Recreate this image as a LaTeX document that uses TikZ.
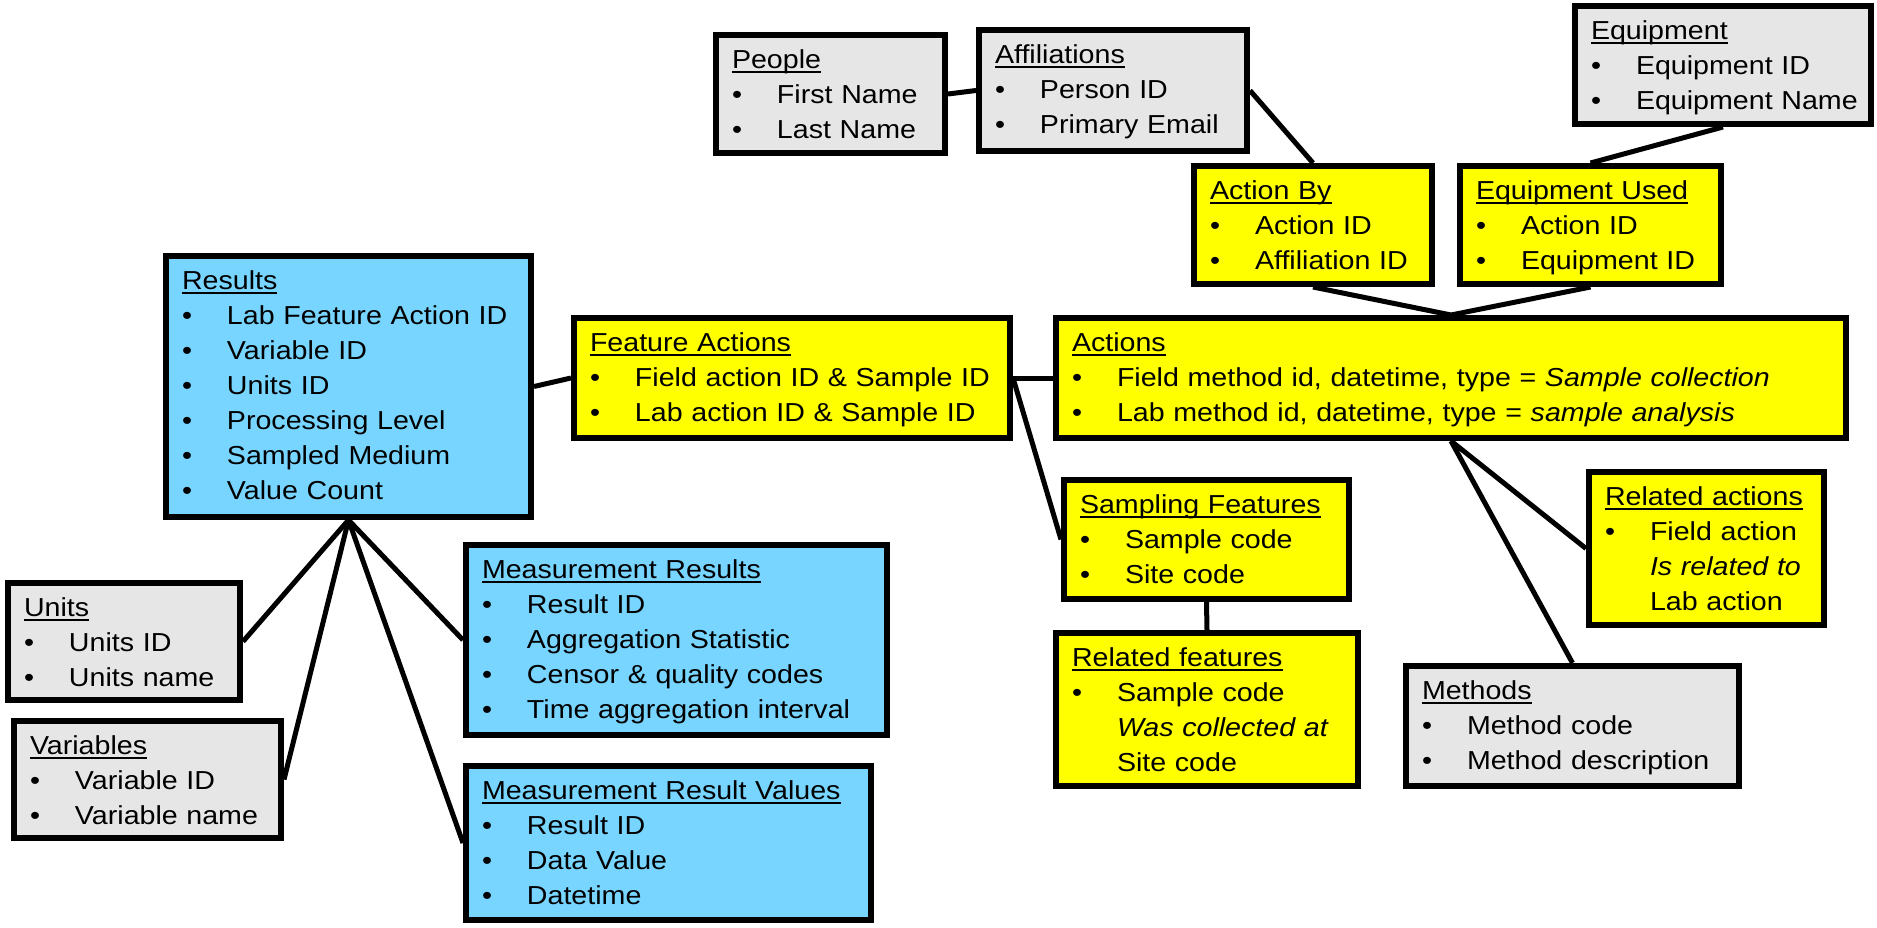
\documentclass[tikz,border=0pt]{standalone}
\usepackage{fontspec}
\setmainfont[FakeStretch=1.1]{Liberation Sans}
\usepackage{tikz}
\definecolor{odmyellow}{RGB}{255,255,0}
\definecolor{odmblue}{RGB}{119,213,255}
\definecolor{odmgrey}{RGB}{230,230,230}

\newcommand{\tbltitle}[1]{\mbox{\setbox0=\hbox{#1}\rlap{\rule[-5pt]{\wd0}{2pt}}\box0}}
\newcommand{\tblitem}[1]{\mbox{\makebox[45pt][l]{\textbullet}#1}}
\newcommand{\tblcont}[1]{\mbox{\hspace*{45pt}#1}}

\begin{document}
\begin{tikzpicture}[x=1pt, y=-1pt,
    tbl/.style 2 args={draw, line width=6pt, anchor=north west, align=left,
        inner xsep=16pt, inner ysep=0pt, text width=#1, text height=33pt, text depth=#2,
        font=\fontsize{26pt}{35pt}\selectfont},
    link/.style={line width=5pt}]
    \useasboundingbox (0,0) rectangle (1877,927);

    % People and equipment
    \node[tbl={197pt}{85pt}, fill=odmgrey] (people) at (713,32)
        {\tbltitle{People}\\ \tblitem{First Name}\\ \tblitem{Last Name}};
    \node[tbl={236pt}{88pt}, fill=odmgrey] (affil) at (976,27)
        {\tbltitle{Affiliations}\\ \tblitem{Person ID}\\ \tblitem{Primary Email}};
    \node[tbl={264pt}{85pt}, fill=odmgrey] (equip) at (1572,3)
        {\tbltitle{Equipment}\\ \tblitem{Equipment ID}\\ \tblitem{Equipment Name}};
    \node[tbl={206pt}{85pt}, fill=odmyellow] (actionby) at (1191,163)
        {\tbltitle{Action By}\\ \tblitem{Action ID}\\ \tblitem{Affiliation ID}};
    \node[tbl={229pt}{85pt}, fill=odmyellow] (equipused) at (1457,163)
        {\tbltitle{Equipment Used}\\ \tblitem{Action ID}\\ \tblitem{Equipment ID}};

    % Actions
    \node[tbl={758pt}{87pt}, fill=odmyellow] (actions) at (1053,315)
        {\tbltitle{Actions}\\ \tblitem{Field method id, datetime, type = \textit{Sample collection}}\\
         \tblitem{Lab method id, datetime, type = \textit{sample analysis}}};
    \node[tbl={404pt}{87pt}, fill=odmyellow] (featact) at (571,315)
        {\tbltitle{Feature Actions}\\ \tblitem{Field action ID \& Sample ID}\\ \tblitem{Lab action ID \& Sample ID}};
    \node[tbl={253pt}{86pt}, fill=odmyellow] (sampfeat) at (1061,477)
        {\tbltitle{Sampling Features}\\ \tblitem{Sample code}\\ \tblitem{Site code}};
    \node[tbl={270pt}{120pt}, fill=odmyellow] (relfeat) at (1053,630)
        {\tbltitle{Related features}\\ \tblitem{Sample code}\\ \tblcont{\textit{Was collected at}}\\ \tblcont{Site code}};
    \node[tbl={203pt}{120pt}, fill=odmyellow] (relact) at (1586,469)
        {\tbltitle{Related actions}\\ \tblitem{Field action}\\ \tblcont{\textit{Is related to}}\\ \tblcont{Lab action}};
    \node[tbl={301pt}{87pt}, fill=odmgrey] (methods) at (1403,663)
        {\tbltitle{Methods}\\ \tblitem{Method code}\\ \tblitem{Method description}};

    % Results
    \node[tbl={333pt}{228pt}, fill=odmblue] (results) at (163,253)
        {\tbltitle{Results}\\ \tblitem{Lab Feature Action ID}\\ \tblitem{Variable ID}\\ \tblitem{Units ID}\\
         \tblitem{Processing Level}\\ \tblitem{Sampled Medium}\\ \tblitem{Value Count}};
    \node[tbl={200pt}{84pt}, fill=odmgrey] (units) at (5,580)
        {\tbltitle{Units}\\ \tblitem{Units ID}\\ \tblitem{Units name}};
    \node[tbl={235pt}{84pt}, fill=odmgrey] (variables) at (11,718)
        {\tbltitle{Variables}\\ \tblitem{Variable ID}\\ \tblitem{Variable name}};
    \node[tbl={389pt}{157pt}, fill=odmblue] (measres) at (463,542)
        {\tbltitle{Measurement Results}\\ \tblitem{Result ID}\\ \tblitem{Aggregation Statistic}\\
         \tblitem{Censor \& quality codes}\\ \tblitem{Time aggregation interval}};
    \node[tbl={373pt}{121pt}, fill=odmblue] (measvals) at (463,763)
        {\tbltitle{Measurement Result Values}\\ \tblitem{Result ID}\\ \tblitem{Data Value}\\ \tblitem{Datetime}};

    % Links
    \draw[link] (people.east) -- (affil.west);
    \draw[link] (affil.east) -- (actionby.north);
    \draw[link] (equip.south) -- (equipused.north);
    \draw[link] (actionby.south) -- (actions.north);
    \draw[link] (equipused.south) -- (actions.north);
    \draw[link] (featact.east) -- (actions.west);
    \draw[link] (results.east) -- (featact.west);
    \draw[link] (featact.east) -- (sampfeat.west);
    \draw[link] (sampfeat.south) -- (relfeat.north);
    \draw[link] (actions.south) -- (relact.west);
    \draw[link] (actions.south) -- (methods.north);
    \draw[link] (results.south) -- (units.east);
    \draw[link] (results.south) -- (variables.east);
    \draw[link] (results.south) -- (measres.west);
    \draw[link] (results.south) -- (measvals.west);
\end{tikzpicture}
\end{document}
